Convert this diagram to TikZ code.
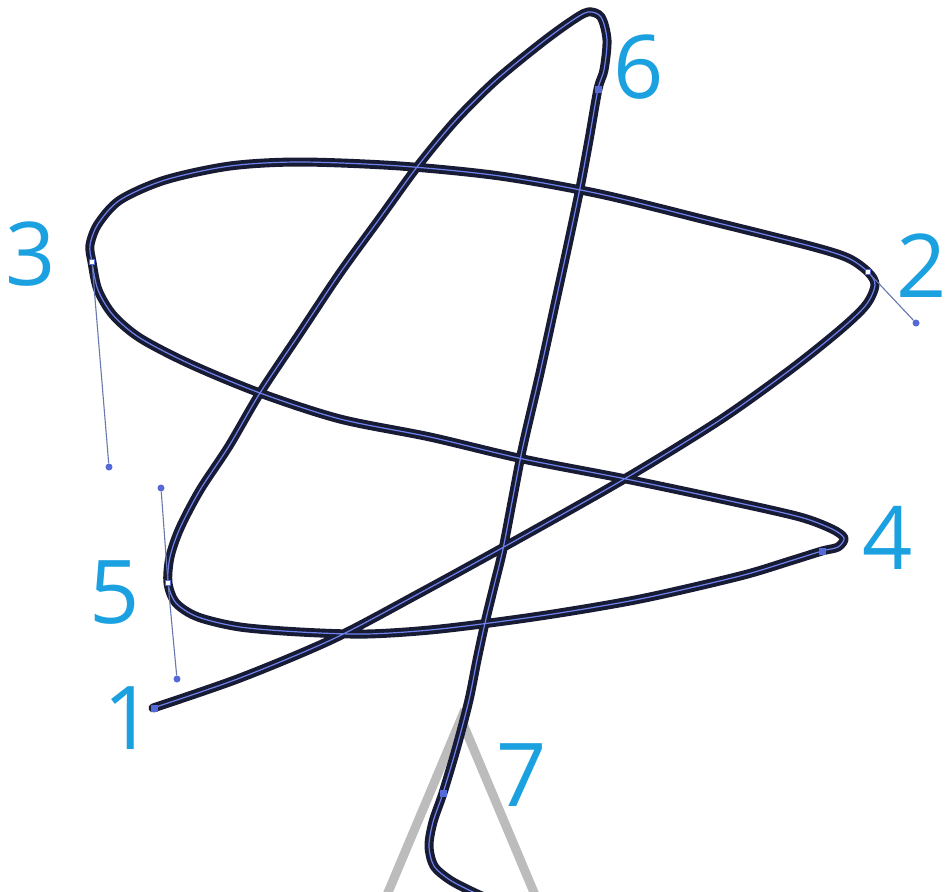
\documentclass[tikz,border=0pt]{standalone}
\usepackage{fontspec}
\newfontfamily\digitfont{Open Sans}
\definecolor{lblue}{RGB}{27,160,224}
\definecolor{navy}{RGB}{24,27,52}
\definecolor{innerblue}{RGB}{110,130,238}
\definecolor{handlecol}{RGB}{105,120,175}
\definecolor{anchorblue}{RGB}{85,105,215}
\definecolor{guide}{RGB}{188,188,188}
\begin{document}
\begin{tikzpicture}[x=1pt,y=-1pt,
  numlabel/.style={font=\digitfont\fontsize{88}{88}\selectfont, text=lblue, inner sep=0pt, anchor=base},
  curvestyle/.style={draw=navy, line width=3.9pt, double=innerblue, double distance=1.2pt, line cap=round, line join=round},
  guideline/.style={draw=guide, line width=9pt, line join=miter},
  handleline/.style={draw=handlecol, line width=1.1pt},
  handleend/.style={circle, fill=anchorblue, inner sep=0pt, minimum size=7pt},
  anchorfill/.style={rectangle, fill=anchorblue, inner sep=0pt, minimum size=7pt},
  anchorhollow/.style={rectangle, fill=white, draw=anchorblue, line width=1pt, inner sep=0pt, minimum size=5pt}]
\fill[white] (0,0) rectangle (946,892);
\useasboundingbox (0,0) rectangle (946,892);
\begin{scope}
\clip (0,0) rectangle (946,892);
% guide lines
\coordinate (gl) at (384,902);
\coordinate (gapex) at (461,719);
\coordinate (gr) at (538,902);
\draw[guideline] (gl) -- (gapex) -- (gr);
% main curve
\draw[curvestyle] plot[smooth, tension=0.5] coordinates {
 (153,708) (240,678) (333,639) (420,593) (520,538) (626,478) (720,420) (790,370)
 (840,330) (866,305) (875,285) (868,272)
 (848,258) (810,246) (706,220) (600,194) (500,176) (400,166) (300,162) (230,166)
 (165,180) (120,200) (98,224) (90,245) (92,262)
 (98,290) (113,315) (140,338) (190,364) (260,393) (340,419) (430,437) (523,459)
 (626,479) (730,501) (800,517) (832,529) (844,538) (838,547) (822,551)
 (790,561) (740,576) (640,599) (540,616) (440,629) (367,634) (300,632) (240,627)
 (198,617) (176,603) (168,583)
 (170,557) (180,528) (200,490) (229,446) (260,393) (300,333) (340,273) (380,218)
 (417,167) (455,121) (495,81) (540,44) (570,22) (588,12) (601,17) (607,40)
 (604,70) (598,89)
 (589,140) (580,188) (568,245) (556,300) (540,373) (523,446) (513,497) (503,549)
 (494,586) (485,623) (477,660) (469,700) (457,746) (443,793) (433,822) (429,846)
 (434,866) (450,880) (473,892) (500,904)};
\end{scope}
% anchor points
\coordinate (p1) at (154,708);
\coordinate (p2) at (868,272);
\coordinate (p3) at (92,262);
\coordinate (p4) at (822,551);
\coordinate (p5) at (168,583);
\coordinate (p6) at (598,89);
\coordinate (p7) at (443,793);
% handles
\node[handleend] (h3) at (109,467) {};
\node[handleend] (h5a) at (161,488) {};
\node[handleend] (h5b) at (177,679) {};
\node[handleend] (h2) at (916,323) {};
\draw[handleline] (p3) -- (h3);
\draw[handleline] (h5a) -- (p5) -- (h5b);
\draw[handleline] (p2) -- (h2);
% anchor markers
\node[anchorfill] (m1) at (p1) {};
\node[anchorfill] (m4) at (p4) {};
\node[anchorfill] (m6) at (p6) {};
\node[anchorfill] (m7) at (p7) {};
\node[anchorhollow] (m2) at (p2) {};
\node[anchorhollow] (m3) at (p3) {};
\node[anchorhollow] (m5) at (p5) {};
% labels
\node[numlabel] (l1) at (129,749) {1};
\node[numlabel] (l2) at (922,297) {2};
\node[numlabel] (l3) at (31,285) {3};
\node[numlabel] (l4) at (888,569) {4};
\node[numlabel] (l5) at (115,623) {5};
\node[numlabel] (l6) at (639,98) {6};
\node[numlabel] (l7) at (522,806) {7};
\end{tikzpicture}
\end{document}
